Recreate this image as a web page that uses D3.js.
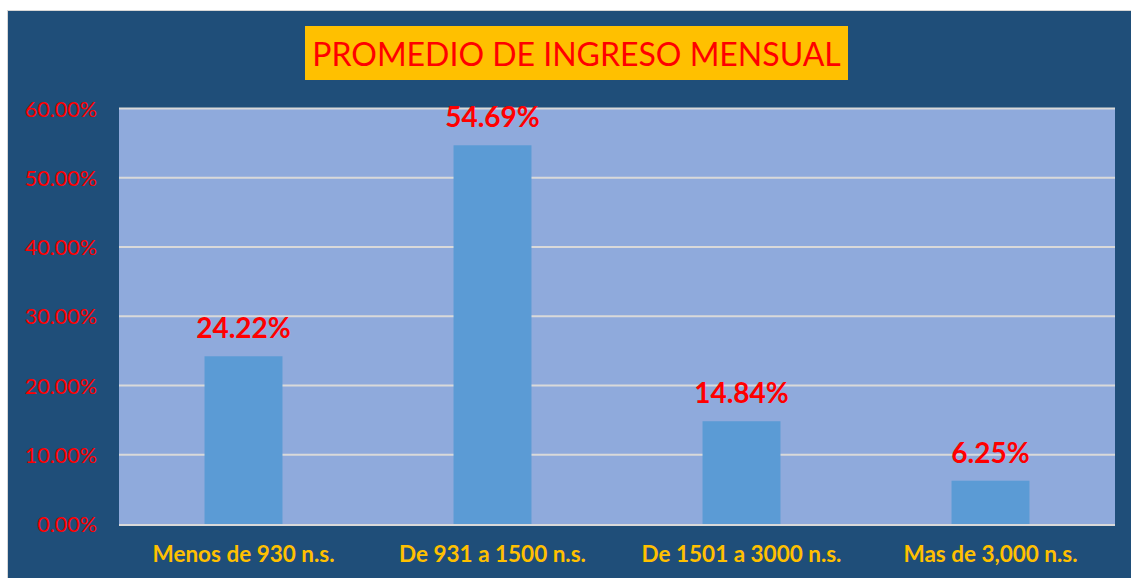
<!DOCTYPE html>
<html><head><meta charset="utf-8">
<script src="https://cdn.jsdelivr.net/npm/d3@7"></script>
<style>html,body{margin:0;padding:0;background:#fff;}svg{display:block;}</style>
</head><body>
<svg id="chart" width="1131" height="578"></svg>
<script>
const categories = ["Menos de 930 n.s.", "De 931 a 1500 n.s.", "De 1501 a 3000 n.s.", "Mas de 3,000 n.s."];
const values = [24.22, 54.69, 14.84, 6.25];
const valueLabels = ["24.22%", "54.69%", "14.84%", "6.25%"];
const yTicks = [0, 10, 20, 30, 40, 50, 60];
const yTickLabels = ["0.00%", "10.00%", "20.00%", "30.00%", "40.00%", "50.00%", "60.00%"];
const title = "PROMEDIO DE INGRESO MENSUAL";

const svg = d3.select("#chart");
const W = 1131, H = 578;
const plot = {left: 119, right: 1115, top: 108.5, bottom: 524};

// outer frame
svg.append("rect").attr("x", 7).attr("y", 10).attr("width", W).attr("height", H).attr("fill", "#d6d6d6");
svg.append("rect").attr("x", 8).attr("y", 11).attr("width", W).attr("height", H).attr("fill", "#1F4E79");

// plot background
svg.append("rect").attr("x", plot.left).attr("y", plot.top).attr("width", plot.right - plot.left)
  .attr("height", plot.bottom - plot.top).attr("fill", "#8FAADC");

const x = d3.scaleBand().domain(categories).range([plot.left, plot.right])
  .paddingInner(0.687).paddingOuter(0.3435);
const y = d3.scaleLinear().domain([0, 60]).range([plot.bottom, plot.top]);

// gridlines
svg.append("g").selectAll("line").data(yTicks.filter(d => d > 0)).join("line")
  .attr("x1", plot.left).attr("x2", plot.right)
  .attr("y1", d => y(d)).attr("y2", d => y(d))
  .attr("stroke", "#D9D9D9").attr("stroke-width", 2);

// bars
svg.append("g").selectAll("rect").data(values).join("rect")
  .attr("x", (d, i) => x(categories[i]))
  .attr("width", x.bandwidth())
  .attr("y", d => y(d))
  .attr("height", d => y(0) - y(d))
  .attr("fill", "#5B9BD5");

// baseline axis
svg.append("line").attr("x1", plot.left).attr("x2", plot.right)
  .attr("y1", y(0) + 1).attr("y2", y(0) + 1).attr("stroke", "#D9D9D9").attr("stroke-width", 2);

// y axis labels
const yAxis = d3.axisLeft(y).tickValues(yTicks).tickSize(0).tickPadding(0)
  .tickFormat((d, i) => yTickLabels[yTicks.indexOf(d)]);
const yg = svg.append("g").attr("transform", `translate(97,0)`).call(yAxis);
yg.select(".domain").remove();
yg.selectAll("text").attr("fill", "#FF0000").attr("font-family", "Lato, sans-serif")
  .attr("font-size", 21.5).attr("dy", "0.35em");

// x axis labels
const xAxis = d3.axisBottom(x).tickSize(0).tickPadding(0);
const xg = svg.append("g").attr("transform", `translate(0,${plot.bottom})`).call(xAxis);
xg.select(".domain").remove();
xg.selectAll("text").attr("fill", "#FFC000").attr("font-family", "Lato, sans-serif")
  .attr("font-weight", "bold").attr("font-size", 22.5).attr("dy", null).attr("y", 38);

// value labels
svg.append("g").selectAll("text").data(values).join("text")
  .attr("x", (d, i) => x(categories[i]) + x.bandwidth() / 2)
  .attr("y", d => y(d) - 18)
  .attr("text-anchor", "middle")
  .attr("fill", "#FF0000").attr("font-family", "Lato, sans-serif")
  .attr("font-weight", "bold").attr("font-size", 28)
  .text((d, i) => valueLabels[i]);

// title
svg.append("rect").attr("x", 305).attr("y", 26).attr("width", 543).attr("height", 54).attr("fill", "#FFC000");
svg.append("text").attr("x", 576.5).attr("y", 66).attr("text-anchor", "middle")
  .attr("fill", "#FF0000").attr("font-family", "Lato, sans-serif").attr("font-size", 32)
  .text(title);
</script>
</body></html>
